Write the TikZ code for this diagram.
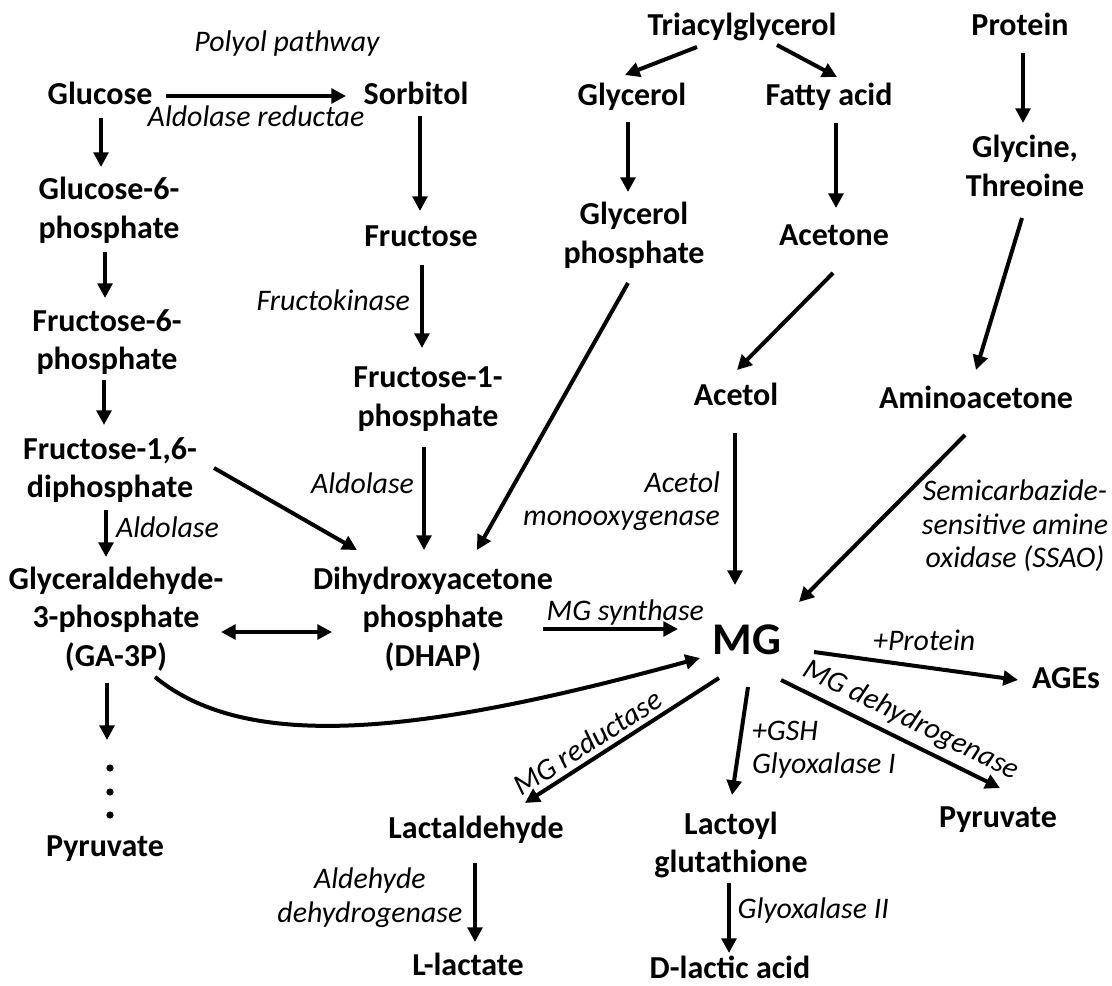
\documentclass[tikz,border=0pt]{standalone}
\usepackage{fontspec}
\setmainfont{Carlito}
\usetikzlibrary{arrows.meta,calc}

\tikzset{
  mol/.style={font=\fontsize{24}{29}\selectfont\bfseries, align=center, inner sep=0pt},
  enz/.style={font=\fontsize{22.4}{25}\selectfont\itshape, inner sep=0pt},
  arr/.style={line width=3pt, -{Triangle[length=11pt,width=11pt]}},
  arrboth/.style={line width=3pt, {Triangle[length=11pt,width=11pt]}-{Triangle[length=11pt,width=11pt]}},
}

\begin{document}
\begin{tikzpicture}[x=0.75pt,y=-0.75pt]
  \useasboundingbox (0,0) rectangle (1112,985);
  % glycolysis
  \node[mol] (glc) at (100,93) {Glucose};
  \node[mol] (g6p) at (109,210) {Glucose-6-\\phosphate};
  \node[mol] (f6p) at (107,342) {Fructose-6-\\phosphate};
  \node[mol] (fdp) at (110,470) {Fructose-1,6-\\diphosphate};
  \node[mol] (ga3p) at (116,619) {Glyceraldehyde-\\3-phosphate\\(GA-3P)};
  \node[mol] (pyr1) at (105,849) {Pyruvate};
  \coordinate (gadots) at (107,740);
  % polyol pathway
  \node[enz] (polyol) at (287,44) {Polyol pathway};
  \node[mol] (sor) at (416,93) {Sorbitol};
  \node[mol] (fru) at (421,236) {Fructose};
  \node[mol] (f1p) at (428,399) {Fructose-1-\\phosphate};
  \node[mol] (dhap) at (433,619) {Dihydroxyacetone\\phosphate\\(DHAP)};
  % lipids and proteins
  \node[mol] (tag) at (742,27) {Triacylglycerol};
  \node[mol] (gly) at (632,97) {Glycerol};
  \node[mol] (glyp) at (634,235) {Glycerol\\phosphate};
  \node[mol] (fa) at (829,97) {Fatty acid};
  \node[mol] (acet) at (834,235) {Acetone};
  \node[mol] (acol) at (736,394) {Acetol};
  \node[mol] (prot) at (1020,24) {Protein};
  \node[mol] (glyc) at (1025,166) {Glycine,\\Threoine};
  \node[mol] (amac) at (976,397) {Aminoacetone};
  \node[enz, align=center] (ssao) at (1015,526) {Semicarbazide-\\sensitive amine\\oxidase (SSAO)};
  % MG and its products
  \node[mol, font=\fontsize{34}{38}\selectfont\bfseries] (mg) at (747,640) {MG};
  \node[mol] (ages) at (1066,678) {AGEs};
  \node[mol] (pyr2) at (998,820) {Pyruvate};
  \node[mol] (lgsh) at (731,845) {Lactoyl\\glutathione};
  \node[mol] (dla) at (730,967) {D-lactic acid};
  \node[mol] (lald) at (476,830) {Lactaldehyde};
  \node[mol] (llac) at (468,964) {L-lactate};

  \draw[arr] ($(glc)+(1,25)$) -- ($(g6p)+(-8,-43)$);
  \draw[arr] ($(g6p)+(-4,42)$) -- ($(f6p)+(-2,-44)$);
  \draw[arr] ($(f6p)+(-3,38)$) -- ($(fdp)+(-6,-45)$);
  \draw[arr] ($(fdp)+(-4,40)$) -- ($(ga3p)+(-10,-62)$)
    node[enz, pos=0.36, right=6pt] (ald2) {Aldolase};
  \draw[arr] ($(ga3p)+(-9,64)$) -- (gadots);
  \foreach \y in {768,792,815}
    \fill (110,\y) circle (2.7pt);

  \draw[arr] ($(glc)+(66,3)$) -- ($(sor)+(-70,3)$)
    node[enz, midway, below=6pt] (alred) {Aldolase reductae};
  \draw[arr] ($(sor)+(4,23)$) -- ($(fru)+(-1,-25)$);
  \draw[arr] ($(fru)+(1,29)$) -- ($(f1p)+(-6,-51)$)
    node[enz, pos=0.42, left=7.5pt] (fk) {Fructokinase};
  \draw[arr] ($(f1p)+(-4,48)$) -- ($(dhap)+(-9,-69)$)
    node[enz, pos=0.35, left=6pt] (ald1) {Aldolase};
  \draw[arr] ($(fdp)+(104,-2)$) -- ($(dhap)+(-76,-69)$);
  \draw[arrboth] ($(ga3p)+(105,13)$) -- ($(dhap)+(-101,13)$);

  \draw[arr] ($(tag)+(-45,20)$) -- ($(gly)+(-7,-22)$);
  \draw[arr] ($(tag)+(35,18)$) -- ($(fa)+(8,-20)$);
  \draw[arr] ($(gly)+(-4,25)$) -- ($(glyp)+(-6,-43)$);
  \draw[arr] ($(fa)+(7,26)$) -- ($(acet)+(2,-27)$);
  \draw[arr] ($(glyp)+(-6,48)$) -- ($(dhap)+(44,-69)$);
  \draw[arr] ($(acet)+(-1,38)$) -- ($(acol)+(1,-24)$);
  \draw[arr] ($(prot)+(3,29)$) -- ($(glyc)+(-2,-43)$);
  \draw[arr] ($(glyc)+(-3,52)$) -- ($(amac)+(0,-27)$);

  % into MG
  \draw[arr] ($(acol)+(-1,39)$) -- ($(mg)+(-12,-55)$)
    node[enz, align=right, pos=0.45, left=9.75pt] (acmo) {Acetol\\monooxygenase};
  \draw[arr] ($(amac)+(-11,38)$) -- ($(mg)+(52,-38)$);
  \draw[arr] ($(dhap)+(110,10)$) -- ($(mg)+(-69,-11)$)
    node[enz, pos=0.61, above=1pt] (mgs) {MG synthase};
  \draw[arr] ($(ga3p)+(39,58)$) .. controls (250,755) and (430,732) .. ($(mg)+(-47,18)$);

  % out of MG
  \draw[arr] ($(mg)+(67,12)$) -- ($(ages)+(-48,2)$)
    node[enz, pos=0.54, above=10.5pt] (plusprot) {+Protein};
  \draw[arr] ($(mg)+(34,40)$) -- ($(pyr2)+(2,-32)$)
    node[enz, pos=0.55, sloped, above=4.8pt] (mgdh) {MG dehydrogenase};
  \draw[arr] ($(mg)+(1,47)$) -- ($(lgsh)+(1,-50)$)
    node[enz, align=left, pos=0.58, right=8.5pt] (gsh) {+GSH\\Glyoxalase I};
  \draw[arr] ($(mg)+(-28,38)$) -- ($(lald)+(49,-27)$)
    node[enz, pos=0.63, sloped, above=3.5pt] (mgred) {MG reductase};
  \draw[arr] ($(lgsh)+(-2,38)$) -- ($(dla)+(-1,-14)$)
    node[enz, pos=0.4, right=5pt] (glo2) {Glyoxalase II};
  \draw[arr] ($(lald)+(-1,33)$) -- ($(llac)+(7,-22)$)
    node[enz, align=center, pos=0.44, left=8pt] (aldh) {Aldehyde\\dehydrogenase};
\end{tikzpicture}
\end{document}
